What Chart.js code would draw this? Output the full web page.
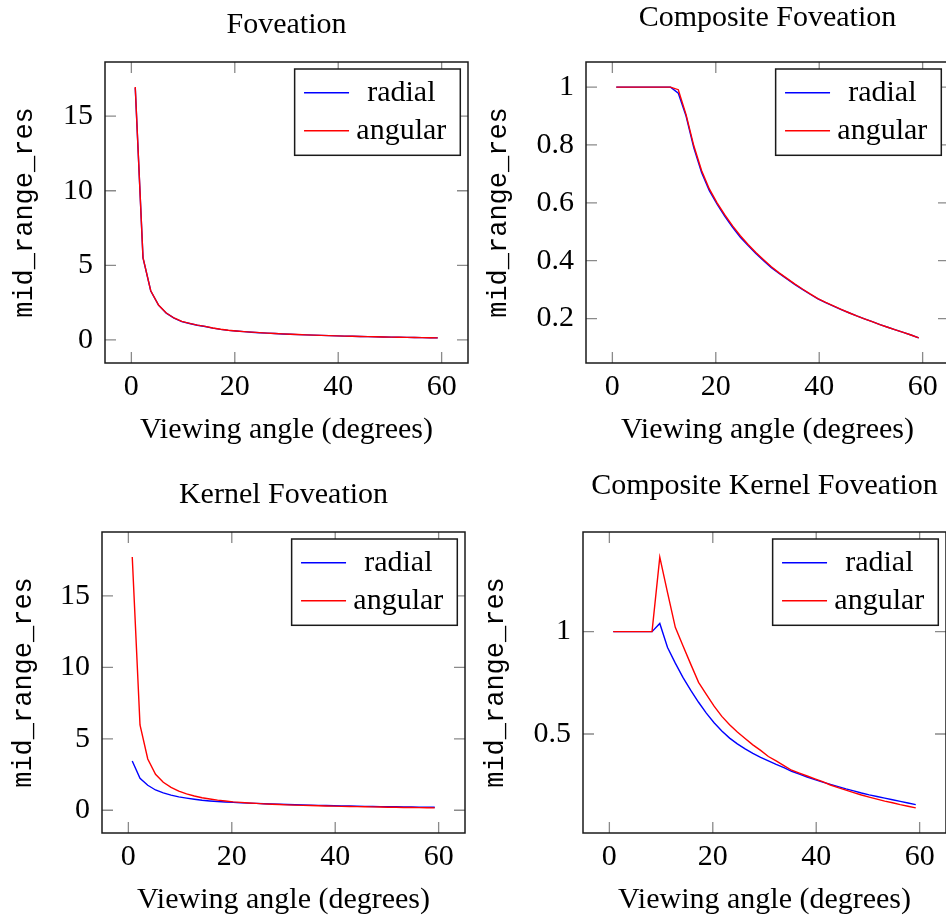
<!DOCTYPE html>
<html>
<head>
<meta charset="utf-8">
<script src="https://cdn.jsdelivr.net/npm/chart.js@4.4.1/dist/chart.umd.min.js"></script>
<style>
html, body { margin: 0; padding: 0; background: #ffffff; width: 946px; height: 919px; overflow: hidden; position: relative; }
canvas { position: absolute; }
</style>
</head>
<body>
<canvas id="c1"></canvas>
<canvas id="c2"></canvas>
<canvas id="c3"></canvas>
<canvas id="c4"></canvas>
<script>
// ---------------- data ----------------
const angles = [0.75, 2.25, 3.75, 5.25, 6.75, 8.25, 9.75, 11.25, 12.75, 14.25,
  15.75, 17.25, 18.75, 20.25, 21.75, 23.25, 24.75, 26.25, 27.75, 29.25,
  30.75, 32.25, 33.75, 35.25, 36.75, 38.25, 39.75, 41.25, 42.75, 44.25,
  45.75, 47.25, 48.75, 50.25, 51.75, 53.25, 54.75, 56.25, 57.75, 59.25];

const seriesLabels = ['radial', 'angular'];

const foveationRadial = [16.9, 5.5, 3.28, 2.33, 1.79, 1.46, 1.23, 1.10, 0.979, 0.90,
  0.79, 0.705, 0.642, 0.595, 0.553, 0.515, 0.481, 0.452, 0.425, 0.400,
  0.376, 0.356, 0.337, 0.318, 0.301, 0.284, 0.268, 0.255, 0.243, 0.231,
  0.220, 0.209, 0.199, 0.189, 0.179, 0.170, 0.161, 0.152, 0.143, 0.133];
const foveationAngular = [16.95, 5.52, 3.29, 2.34, 1.80, 1.47, 1.24, 1.11, 0.991, 0.905,
  0.797, 0.712, 0.648, 0.600, 0.558, 0.520, 0.486, 0.456, 0.428, 0.403,
  0.379, 0.358, 0.339, 0.320, 0.302, 0.285, 0.269, 0.256, 0.244, 0.232,
  0.220, 0.209, 0.199, 0.189, 0.179, 0.170, 0.161, 0.152, 0.143, 0.133];

const compositeRadial = [1, 1, 1, 1, 1, 1, 1, 1, 0.979, 0.90,
  0.79, 0.705, 0.642, 0.595, 0.553, 0.515, 0.481, 0.452, 0.425, 0.400,
  0.376, 0.356, 0.337, 0.318, 0.301, 0.284, 0.268, 0.255, 0.243, 0.231,
  0.220, 0.209, 0.199, 0.189, 0.179, 0.170, 0.161, 0.152, 0.143, 0.133];
const compositeAngular = [1, 1, 1, 1, 1, 1, 1, 1, 0.991, 0.905,
  0.797, 0.712, 0.648, 0.600, 0.558, 0.520, 0.486, 0.456, 0.428, 0.403,
  0.379, 0.358, 0.339, 0.320, 0.302, 0.285, 0.269, 0.256, 0.244, 0.232,
  0.220, 0.209, 0.199, 0.189, 0.179, 0.170, 0.161, 0.152, 0.143, 0.133];

const kernelRadial = [3.45, 2.24, 1.75, 1.42, 1.22, 1.06, 0.94, 0.85, 0.77, 0.70,
  0.65, 0.61, 0.58, 0.55, 0.52, 0.50, 0.48, 0.46, 0.44, 0.42,
  0.405, 0.39, 0.375, 0.36, 0.345, 0.33, 0.315, 0.305, 0.295, 0.285,
  0.275, 0.265, 0.257, 0.25, 0.242, 0.235, 0.228, 0.222, 0.215, 0.21];
const kernelAngular = [17.72, 5.97, 3.59, 2.52, 1.96, 1.60, 1.34, 1.15, 1.00, 0.88,
  0.79, 0.71, 0.65, 0.59, 0.55, 0.51, 0.48, 0.45, 0.425, 0.40,
  0.38, 0.36, 0.345, 0.33, 0.315, 0.30, 0.29, 0.275, 0.265, 0.255,
  0.245, 0.235, 0.225, 0.215, 0.207, 0.198, 0.19, 0.182, 0.175, 0.165];

const compositeKernelRadial = [1, 1, 1, 1, 1, 1, 1.04, 0.922, 0.846, 0.775,
  0.713, 0.655, 0.602, 0.555, 0.515, 0.480, 0.452, 0.427, 0.405, 0.386,
  0.369, 0.352, 0.336, 0.318, 0.304, 0.290, 0.277, 0.265, 0.254, 0.243,
  0.232, 0.222, 0.212, 0.203, 0.195, 0.187, 0.179, 0.171, 0.163, 0.155];
const compositeKernelAngular = [1, 1, 1, 1, 1, 1, 1.364, 1.19, 1.021, 0.93,
  0.84, 0.752, 0.694, 0.636, 0.586, 0.545, 0.51, 0.478, 0.447, 0.42,
  0.39, 0.369, 0.346, 0.323, 0.309, 0.295, 0.281, 0.267, 0.251, 0.238,
  0.226, 0.214, 0.202, 0.192, 0.182, 0.172, 0.164, 0.155, 0.147, 0.139];

const xTickValues = [0, 20, 40, 60];
const xTickLabels = ['0', '20', '40', '60'];
const bigYTickValues = [0, 5, 10, 15];
const bigYTickLabels = ['0', '5', '10', '15'];
const compositeYTickValues = [0.2, 0.4, 0.6, 0.8, 1];
const compositeYTickLabels = ['0.2', '0.4', '0.6', '0.8', '1'];
const compositeKernelYTickValues = [0.5, 1];
const compositeKernelYTickLabels = ['0.5', '1'];

const chartTitles = ['Foveation', 'Composite Foveation', 'Kernel Foveation', 'Composite Kernel Foveation'];
const xAxisTitle = 'Viewing angle (degrees)';
const yAxisTitle = 'mid_range_res';

// ---------------- styling / layout ----------------
const SERIF = '"Liberation Serif", "Times New Roman", serif';
const MONO = '"Liberation Mono", "DejaVu Sans Mono", monospace';
const FS = 30;           // serif font size
const MFS = 27;          // mono font size
const Y_W = 105;         // left axis band width
const PLOT_W = 363;
const PLOT_H = 301;
const X_H = 97;
const COLORS = ['#0000ff', '#ff0000'];

Chart.defaults.color = '#000000';

function enlarged(arrays) {
  let mn = Infinity, mx = -Infinity;
  arrays.forEach(a => a.forEach(v => { if (v < mn) mn = v; if (v > mx) mx = v; }));
  const r = mx - mn;
  return [mn - 0.1 * r, mx + 0.1 * r];
}

const framePlugin = {
  id: 'pgfFrame',
  afterDatasetsDraw(chart) {
    const { ctx, chartArea: a } = chart;
    const xs = chart.scales.x, ys = chart.scales.y;
    ctx.save();
    // inward ticks on all four sides
    ctx.strokeStyle = '#8a8a8a';
    ctx.lineWidth = 1.3;
    const L = 11;
    ctx.beginPath();
    xs.ticks.forEach(t => {
      const p = xs.getPixelForValue(t.value);
      ctx.moveTo(p, a.bottom); ctx.lineTo(p, a.bottom - L);
      ctx.moveTo(p, a.top); ctx.lineTo(p, a.top + L);
    });
    ys.ticks.forEach(t => {
      const p = ys.getPixelForValue(t.value);
      ctx.moveTo(a.left, p); ctx.lineTo(a.left + L, p);
      ctx.moveTo(a.right, p); ctx.lineTo(a.right - L, p);
    });
    ctx.stroke();
    // frame
    ctx.strokeStyle = '#1a1a1a';
    ctx.lineWidth = 1.5;
    ctx.strokeRect(a.left, a.top, a.right - a.left, a.bottom - a.top);
    // legend box
    ctx.font = FS + 'px ' + SERIF;
    const labels = chart.data.datasets.map(d => d.label);
    const textW = Math.max(...labels.map(l => ctx.measureText(l).width));
    const colStart = 61.7;
    const bw = colStart + textW + 14;
    const bh = 86.3;
    const bx = a.right - 7.7 - bw;
    const by = a.top + 7;
    ctx.fillStyle = '#ffffff';
    ctx.fillRect(bx, by, bw, bh);
    ctx.strokeStyle = '#1a1a1a';
    ctx.lineWidth = 1.5;
    ctx.strokeRect(bx, by, bw, bh);
    const rows = [23.7, 61.7];
    chart.data.datasets.forEach((d, i) => {
      const ry = by + rows[i];
      ctx.strokeStyle = d.borderColor;
      ctx.lineWidth = 1.4;
      ctx.beginPath();
      ctx.moveTo(bx + 9.4, ry); ctx.lineTo(bx + 54.4, ry);
      ctx.stroke();
      ctx.fillStyle = '#000000';
      ctx.textAlign = 'center';
      ctx.textBaseline = 'middle';
      ctx.fillText(d.label, bx + colStart + textW / 2, ry);
    });
    ctx.restore();
  }
};

function build(spec) {
  const canvas = document.getElementById(spec.id);
  const canvasLeft = spec.plotLeft - Y_W;
  const canvasTop = Math.round(spec.titleCY - 22);
  const W = PLOT_W + 2 * Y_W;
  const plotTopRel = spec.plotTop - canvasTop;
  const H = plotTopRel + PLOT_H + X_H;
  const titlePadTop = spec.titleCY - 18 - canvasTop;
  const titlePadBottom = plotTopRel - titlePadTop - 36;
  const yTitlePad = (spec.yTitleBase - canvasLeft - 7.2) - MFS * 1.2 / 2;
  const xTitlePad = (spec.plotTop + PLOT_H + X_H) - (spec.xTitleBase - 10.1) - FS * 1.2 / 2;
  canvas.width = W; canvas.height = H;
  canvas.style.width = W + 'px'; canvas.style.height = H + 'px';
  canvas.style.left = canvasLeft + 'px'; canvas.style.top = canvasTop + 'px';

  const xr = enlarged([angles]);
  const yr = enlarged(spec.series);

  new Chart(canvas, {
    type: 'line',
    data: {
      datasets: spec.series.map((vals, i) => ({
        label: seriesLabels[i],
        data: angles.map((a, k) => ({ x: a, y: vals[k] })),
        borderColor: COLORS[i],
        backgroundColor: COLORS[i],
        borderWidth: 1.4,
        pointRadius: 0,
        tension: 0,
        fill: false,
        order: i === 0 ? 1 : 0
      }))
    },
    options: {
      responsive: false,
      animation: false,
      devicePixelRatio: 1,
      events: [],
      layout: { padding: 0, autoPadding: false },
      plugins: {
        legend: { display: false },
        tooltip: { enabled: false },
        title: {
          display: true,
          text: spec.title,
          color: '#000',
          font: { family: SERIF, size: FS, weight: 'normal', lineHeight: 1.2 },
          padding: { top: titlePadTop, bottom: titlePadBottom }
        }
      },
      scales: {
        x: {
          type: 'linear',
          position: 'bottom',
          min: xr[0], max: xr[1],
          afterBuildTicks: s => { s.ticks = xTickValues.map(v => ({ value: v })); },
          afterFit: s => { s.height = X_H; },
          grid: { display: false, drawTicks: false },
          border: { display: false },
          ticks: {
            autoSkip: false, maxRotation: 0, padding: 6, color: '#000',
            font: { family: SERIF, size: FS, lineHeight: 1.2 },
            callback: (v, i) => xTickLabels[xTickValues.indexOf(v)]
          },
          title: {
            display: true, text: xAxisTitle, color: '#000',
            font: { family: SERIF, size: FS, lineHeight: 1.2 },
            padding: { top: 0, bottom: xTitlePad }
          }
        },
        y: {
          type: 'linear',
          position: 'left',
          min: yr[0], max: yr[1],
          afterBuildTicks: s => { s.ticks = spec.yTicks.map(v => ({ value: v })); },
          afterFit: s => { s.width = Y_W; },
          grid: { display: false, drawTicks: false },
          border: { display: false },
          ticks: {
            autoSkip: false, padding: 12, color: '#000',
            font: { family: SERIF, size: FS, lineHeight: 1.2 },
            callback: (v) => spec.yLabels[spec.yTicks.indexOf(v)]
          },
          title: {
            display: true, text: yAxisTitle, color: '#000',
            font: { family: MONO, size: MFS, lineHeight: 1.2 },
            padding: { top: yTitlePad, bottom: 0 }
          }
        },
        yRight: {
          type: 'linear',
          position: 'right',
          display: true,
          afterFit: s => { s.width = Y_W; },
          grid: { display: false, drawTicks: false },
          border: { display: false },
          ticks: { display: false }
        }
      }
    },
    plugins: [framePlugin]
  });
}

build({ id: 'c1', title: chartTitles[0], plotLeft: 105, plotTop: 62, titleCY: 25.6, yTitleBase: 32.5, xTitleBase: 440.7,
  series: [foveationRadial, foveationAngular], yTicks: bigYTickValues, yLabels: bigYTickLabels });
build({ id: 'c2', title: chartTitles[1], plotLeft: 586, plotTop: 62, titleCY: 18.2, yTitleBase: 506, xTitleBase: 440.7,
  series: [compositeRadial, compositeAngular], yTicks: compositeYTickValues, yLabels: compositeYTickLabels });
build({ id: 'c3', title: chartTitles[2], plotLeft: 102, plotTop: 532, titleCY: 495.6, yTitleBase: 31.5, xTitleBase: 910.7,
  series: [kernelRadial, kernelAngular], yTicks: bigYTickValues, yLabels: bigYTickLabels });
build({ id: 'c4', title: chartTitles[3], plotLeft: 583, plotTop: 532, titleCY: 486.6, yTitleBase: 503.5, xTitleBase: 910.7,
  series: [compositeKernelRadial, compositeKernelAngular], yTicks: compositeKernelYTickValues, yLabels: compositeKernelYTickLabels });
</script>
</body>
</html>
